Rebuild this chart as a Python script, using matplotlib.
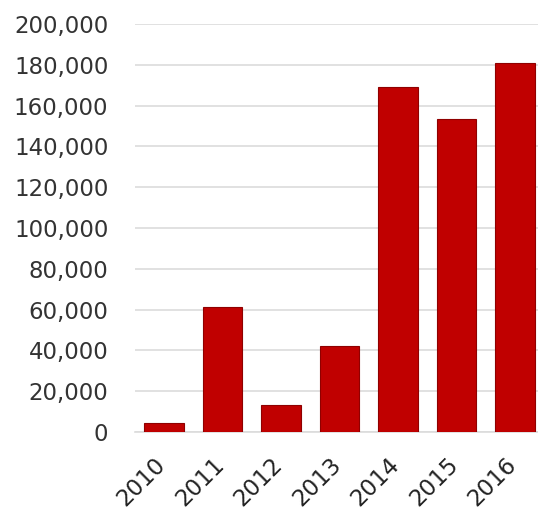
import matplotlib
matplotlib.use("Agg")
from matplotlib import pyplot as plt
from matplotlib.ticker import FuncFormatter
from matplotlib.transforms import ScaledTranslation

years = ['2010', '2011', '2012', '2013', '2014', '2015', '2016']
values = [4300, 61500, 13200, 42400, 169300, 153500, 180800]

plt.rcParams['font.family'] = ['DejaVu Sans']

fig = plt.figure(figsize=(5.38, 5.17), dpi=100)
ax = fig.add_axes([0.2505, 0.1644, 0.761, 0.7892])

x = range(len(years))
ax.bar(x, values, width=0.68, color='#c00000', edgecolor='#8f0000', linewidth=0.8, zorder=3)

ax.set_xlim(-0.5, 6.5)
ax.set_ylim(0, 200000)
ax.set_yticks(range(0, 200001, 20000))
ax.yaxis.set_major_formatter(FuncFormatter(lambda v, p: '{:,.0f}'.format(v)))
ax.grid(axis='y', color='#dcdcdc', linewidth=1.2, zorder=0)
ax.set_axisbelow(True)

# rotated year labels, drawn as text so they can be nudged left/down
ax.set_xticks(list(x))
ax.set_xticklabels([])
off = ScaledTranslation(-0.10, -0.21, fig.dpi_scale_trans)
for i, yr in enumerate(years):
    ax.text(i, 0, yr, transform=ax.get_xaxis_transform() + off,
            rotation=45, ha='right', va='top', rotation_mode='anchor',
            fontsize=16.5, color='#222222')

for s in ['top', 'right', 'left']:
    ax.spines[s].set_visible(False)
ax.spines['bottom'].set_color('#dcdcdc')
ax.spines['bottom'].set_linewidth(1.2)

ax.tick_params(axis='y', length=0, pad=19, labelsize=16.5, labelcolor='#333333')
ax.tick_params(axis='x', length=0)

fig.savefig('out.png', dpi=100)
